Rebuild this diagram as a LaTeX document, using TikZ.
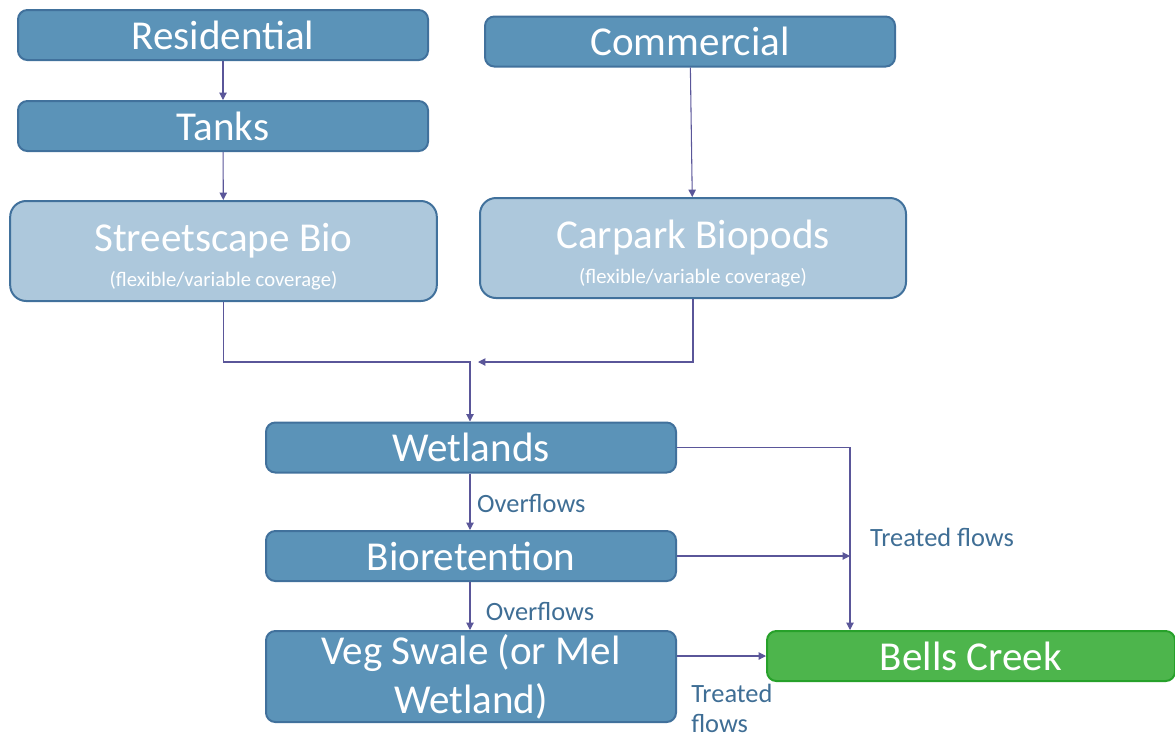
\documentclass[tikz,border=0pt]{standalone}
\usepackage{fontspec}
\setmainfont{Carlito}
\usepackage{xcolor}
\usetikzlibrary{arrows.meta}
\definecolor{boxblue}{HTML}{5B93B8}
\definecolor{boxedge}{HTML}{41719C}
\definecolor{paleblue}{HTML}{ADC8DC}
\definecolor{creekgreen}{HTML}{4DB54C}
\definecolor{creekedge}{HTML}{27A12A}
\definecolor{flowline}{HTML}{5A5699}
\definecolor{labeltext}{HTML}{3F6E95}
\newcommand{\biostrut}{\rule{0pt}{30pt}}

\begin{document}
\begin{tikzpicture}[x=0.75pt,y=-0.75pt,
    flowbox/.style={draw=boxedge, line width=1.5pt, fill=boxblue, rounded corners=7pt,
      text=white, font=\fontsize{30.8}{37}\selectfont, inner sep=0pt, align=center,
      minimum width=307.5pt, minimum height=37.5pt},
    biobox/.style={flowbox, fill=paleblue, rounded corners=12pt,
      minimum width=320pt, minimum height=75pt},
    creekbox/.style={flowbox, draw=creekedge, fill=creekgreen, minimum width=306pt},
    flow/.style={draw=flowline, line width=0.8pt, -{Triangle[width=5.5pt,length=5.5pt]}},
    flowlabel/.style={text=labeltext, font=\fontsize{19.8}{22.5}\selectfont, inner sep=0pt}]
    \useasboundingbox (0,0) rectangle (1175,740);
    % left branch
    \node[flowbox] (residential) at (223,35) {Residential};
    \node[flowbox] (tanks) at (223,126) {Tanks};
    \node[biobox] (street) at (223.5,251) {\biostrut Streetscape Bio\\[-11pt]{\fontsize{15.5}{18}\selectfont (flexible/variable coverage)}};
    % right branch
    \node[flowbox] (commercial) at (690,41.5) {Commercial};
    \node[biobox, minimum width=319.5pt] (carpark) at (693,248) {\biostrut Carpark Biopods\\[-11pt]{\fontsize{15.5}{18}\selectfont (flexible/variable coverage)}};
    % treatment train
    \node[flowbox] (wetlands) at (471,447.5) {Wetlands};
    \node[flowbox] (bioret) at (471,556) {Bioretention};
    \node[flowbox, minimum height=68.25pt] (swale) at (471,676.5) {Veg Swale (or Mel\\Wetland)};
    \node[creekbox] (creek) at (971,656) {Bells Creek};
    \coordinate (join) at (478,362);
    \coordinate (bend) at (850,556);

    \draw[flow] (residential) -- (tanks);
    \draw[flow] (tanks) -- (street);
    \draw[flow] (commercial) -- (carpark);
    \draw[flow] (street.south) |- (470,362) -- (wetlands.north -| 470,0);
    \draw[flow] (carpark.south) |- (join);
    \draw[flow] (wetlands.south -| 470,0) -- (bioret.north -| 470,0)
      node[flowlabel, midway, right=5pt, yshift=-1.5pt] (over1) {Overflows};
    \draw[flow] (bioret.south -| 470,0) -- (swale.north -| 470,0)
      node[flowlabel, midway, right=11.5pt, yshift=-4pt] (over2) {Overflows};
    \draw[flow] (wetlands.east) -| (creek.north -| bend);
    \draw[flow] (bioret.east) -- (bend);
    \draw[flow] (swale.east |- creek.west) -- (creek.west);
    \node[flowlabel] (treated1) at (942,537) {Treated flows};
    \node[flowlabel, anchor=north west, align=left] (treated2) at (691,684) {Treated\\flows};
\end{tikzpicture}
\end{document}
